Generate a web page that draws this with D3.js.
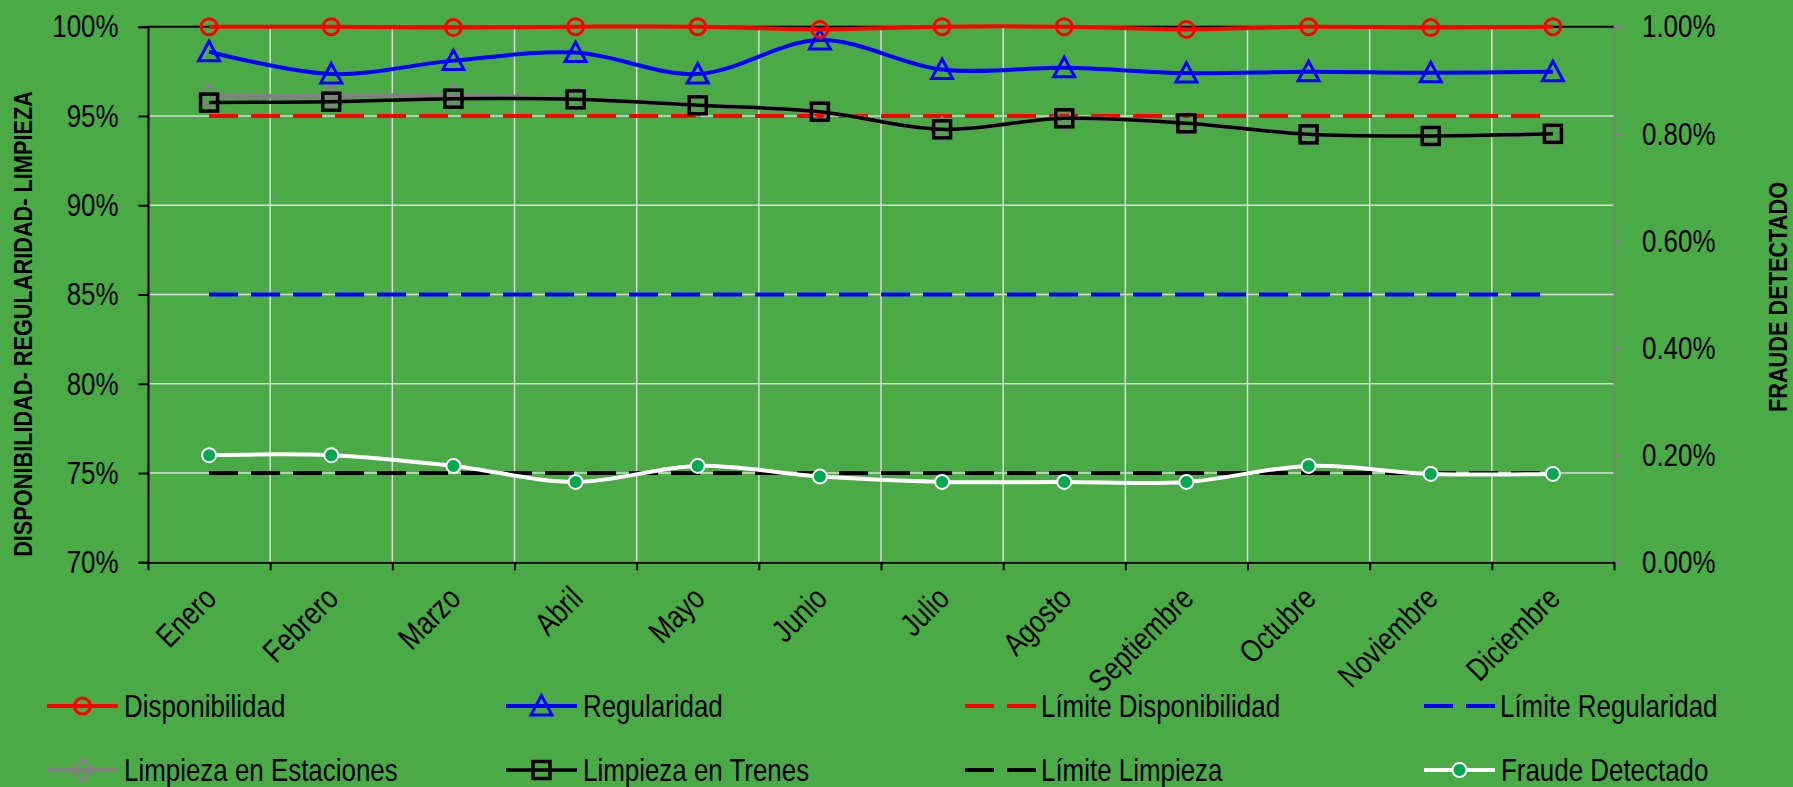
<!DOCTYPE html>
<html>
<head>
<meta charset="utf-8">
<script src="https://cdn.jsdelivr.net/npm/d3@7"></script>
<style>
  html, body { margin: 0; padding: 0; background: #4aaa46; }
  svg { display: block; }
  text { font-family: 'Liberation Sans', Arial, sans-serif; fill: #000; }
</style>
</head>
<body>
<svg id="chart"></svg>
<script>
const months = ['Enero', 'Febrero', 'Marzo', 'Abril', 'Mayo', 'Junio', 'Julio',
  'Agosto', 'Septiembre', 'Octubre', 'Noviembre', 'Diciembre']

// left axis (%)
const disponibilidad = [100, 100, 99.95, 100, 100, 99.85, 100, 100, 99.85, 100, 99.95, 100]
const regularidad = [98.6, 97.35, 98.1, 98.55, 97.35, 99.25, 97.6, 97.7, 97.4, 97.48, 97.42, 97.48]
const limpiezaEstaciones = [96.1, 96.1, 96.15, 95.95, 95.6, 95.24, 94.25, 94.87, 94.59, 93.97, 93.88, 94.0]
const limpiezaTrenes = [95.75, 95.8, 95.97, 95.93, 95.6, 95.24, 94.25, 94.87, 94.59, 93.97, 93.88, 94.0]
const limiteDisponibilidad = months.map(() => 95)
const limiteRegularidad = months.map(() => 85)
const limiteLimpieza = months.map(() => 75)
// right axis (fraction)
const fraude = [0.0020, 0.0020, 0.0018, 0.0015, 0.0018, 0.0016, 0.0015, 0.0015, 0.0015, 0.0018, 0.00165, 0.00165]

const leftTicks = [70, 75, 80, 85, 90, 95, 100]
const rightTicks = [0, 0.002, 0.004, 0.006, 0.008, 0.01]

const width = 1793
const height = 787
const plot = { left: 148, right: 1614, top: 26.7, bottom: 562.3 }
const squeeze = 0.81 // the original font is a narrow face

const svg = d3.select('#chart').attr('width', width).attr('height', height)
svg.append('rect').attr('width', width).attr('height', height).attr('fill', '#4aaa46')

const x = d3.scaleBand().domain(months).range([plot.left, plot.right])
const xLin = d3.scaleLinear().domain([0, 12]).range([plot.left, plot.right])
const yL = d3.scaleLinear().domain([70, 100]).range([plot.bottom, plot.top])
const yR = d3.scaleLinear().domain([0, 0.01]).range([plot.bottom, plot.top])
const cx = (m) => x(m) + x.bandwidth() / 2

// gridlines
const grid = svg.append('g').attr('stroke', '#d9d9d9').attr('stroke-width', 1.5)
grid.selectAll('.h').data(leftTicks.slice(0, -1)).enter().append('line')
  .attr('x1', plot.left).attr('x2', plot.right)
  .attr('y1', (d) => yL(d)).attr('y2', (d) => yL(d))
grid.selectAll('.v').data(d3.range(1, 12)).enter().append('line')
  .attr('x1', (d) => xLin(d)).attr('x2', (d) => xLin(d))
  .attr('y1', plot.top).attr('y2', plot.bottom)

svg.append('line')
  .attr('x1', plot.left).attr('x2', plot.right)
  .attr('y1', plot.top).attr('y2', plot.top)
  .attr('stroke', '#000').attr('stroke-width', 2)

// axes
const axisText = (g) => g.selectAll('text')
  .style('font-family', "'Liberation Sans', Arial, sans-serif")
  .style('font-size', '32px')
  .each(function () {
    const t = d3.select(this)
    const tx = +t.attr('x')
    t.attr('x', 0).attr('transform', `translate(${tx},0) scale(${squeeze},1)`)
  })

const leftAxis = svg.append('g')
  .attr('transform', `translate(${plot.left},0)`)
  .call(d3.axisLeft(yL).tickValues(leftTicks).tickSize(9.5).tickPadding(20).tickFormat((d) => d + '%'))
leftAxis.call(axisText)
leftAxis.selectAll('line, path').attr('stroke', '#000').attr('stroke-width', 2)

const rightAxis = svg.append('g')
  .attr('transform', `translate(${plot.right},0)`)
  .call(d3.axisRight(yR).tickValues(rightTicks).tickSize(9).tickPadding(19).tickFormat(d3.format('.2%')))
rightAxis.call(axisText)
rightAxis.selectAll('line, path').attr('stroke', '#808080').attr('stroke-width', 2)

const bottomAxis = svg.append('g')
  .attr('transform', `translate(0,${plot.bottom})`)
  .call(d3.axisBottom(xLin).tickValues(d3.range(13)).tickSize(8).tickSizeOuter(0).tickFormat(''))
bottomAxis.selectAll('line, path').attr('stroke', '#000').attr('stroke-width', 2)

svg.append('g').selectAll('text').data(months).enter().append('text')
  .attr('transform', (d) => `translate(${cx(d) + 9},${plot.bottom + 38}) rotate(-45) scale(${squeeze},1)`)
  .attr('text-anchor', 'end')
  .style('font-size', '32px')
  .text((d) => d)

// axis titles
svg.append('text')
  .attr('transform', 'translate(31.7,324) rotate(-90) scale(0.82,1)')
  .attr('text-anchor', 'middle')
  .style('font-size', '26.5px').style('font-weight', 'bold')
  .text('DISPONIBILIDAD- REGULARIDAD- LIMPIEZA')
svg.append('text')
  .attr('transform', 'translate(1786.5,297) rotate(-90) scale(0.82,1)')
  .attr('text-anchor', 'middle')
  .style('font-size', '26.5px').style('font-weight', 'bold')
  .text('FRAUDE DETECTADO')

// markers
const markers = {
  circle: (g, c) => g.append('circle').attr('r', 8).attr('fill', 'none').attr('stroke', c).attr('stroke-width', 3),
  triangle: (g, c) => g.append('path').attr('d', 'M0,-10.5L10.5,9L-10.5,9Z').attr('fill', 'none').attr('stroke', c).attr('stroke-width', 3),
  square: (g, c) => g.append('rect').attr('x', -8.5).attr('y', -8.5).attr('width', 17).attr('height', 17)
    .attr('fill', 'none').attr('stroke', c).attr('stroke-width', 3.5),
  diamond: (g, c) => g.append('path').attr('d', 'M0,-11.5L10,0L0,11.5L-10,0Z').attr('fill', 'none').attr('stroke', c).attr('stroke-width', 3),
  dot: (g, c) => g.append('circle').attr('r', 7).attr('fill', '#00a84f').attr('stroke', c).attr('stroke-width', 2)
}

const series = [
  { name: 'Límite Disponibilidad', values: limiteDisponibilidad, y: yL, color: '#ff0000', width: 4, dash: '29,13' },
  { name: 'Límite Regularidad', values: limiteRegularidad, y: yL, color: '#0000ff', width: 4, dash: '29,13' },
  { name: 'Límite Limpieza', values: limiteLimpieza, y: yL, color: '#000000', width: 4, dash: '29,13' },
  { name: 'Limpieza en Estaciones', values: limpiezaEstaciones, y: yL, color: '#808080', width: 4.5, marker: 'diamond', smooth: true },
  { name: 'Limpieza en Trenes', values: limpiezaTrenes, y: yL, color: '#000000', width: 3.5, marker: 'square', smooth: true },
  { name: 'Regularidad', values: regularidad, y: yL, color: '#0000ff', width: 4, marker: 'triangle', smooth: true },
  { name: 'Disponibilidad', values: disponibilidad, y: yL, color: '#ff0000', width: 4, marker: 'circle', smooth: true },
  { name: 'Fraude Detectado', values: fraude, y: yR, color: '#ffffff', width: 4, marker: 'dot', smooth: true }
]

series.forEach((s) => {
  const line = d3.line()
    .x((d, i) => cx(months[i]))
    .y((d) => s.y(d))
    .curve(s.smooth ? d3.curveCatmullRom : d3.curveLinear)
  const g = svg.append('g')
  g.append('path')
    .attr('d', line(s.values))
    .attr('fill', 'none')
    .attr('stroke', s.color)
    .attr('stroke-width', s.width)
    .attr('stroke-dasharray', s.dash || null)
  if (s.marker) {
    s.values.forEach((v, i) => {
      const m = g.append('g').attr('transform', `translate(${cx(months[i])},${s.y(v)})`)
      markers[s.marker](m, s.color)
    })
  }
})

// legend
const legendOrder = ['Disponibilidad', 'Regularidad', 'Límite Disponibilidad', 'Límite Regularidad',
  'Limpieza en Estaciones', 'Limpieza en Trenes', 'Límite Limpieza', 'Fraude Detectado']
const legend = svg.append('g')
legendOrder.forEach((name, i) => {
  const s = series.find((d) => d.name === name)
  const lx = 47 + (i % 4) * 459
  const ly = i < 4 ? 706 : 770
  const g = legend.append('g').attr('transform', `translate(${lx},${ly})`)
  g.append('line').attr('x1', 0).attr('x2', 71).attr('y1', 0).attr('y2', 0)
    .attr('stroke', s.color).attr('stroke-width', s.width)
    .attr('stroke-dasharray', s.dash || null)
  if (s.marker) markers[s.marker](g.append('g').attr('transform', 'translate(35.5,0)'), s.color)
  g.append('text')
    .attr('transform', `translate(${s.dash ? 76 : 77},10.7) scale(${squeeze},1)`)
    .style('font-size', '32px')
    .text(name)
})
</script>
</body>
</html>
